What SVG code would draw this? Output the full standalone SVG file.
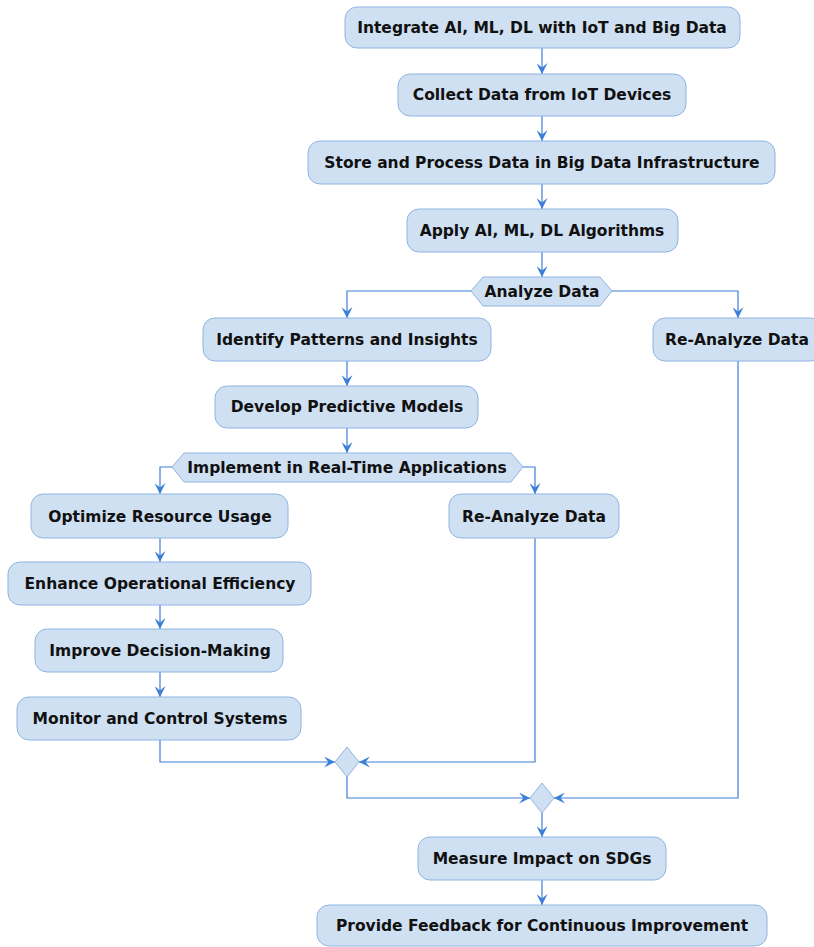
<svg xmlns="http://www.w3.org/2000/svg" width="814" height="947" viewBox="0 0 814 947">
<defs>
<style>
.box{fill:#CFE0F2;stroke:#8FB4E3;stroke-width:1}
.t{font-family:"DejaVu Sans",sans-serif;font-size:15.5px;fill:#111;text-anchor:middle;font-weight:bold}
.c{fill:none;stroke:#3C7FD8;stroke-width:1.2}
</style>
<marker id="a" viewBox="0 0 10 10" refX="10" refY="5" markerWidth="11" markerHeight="11" markerUnits="userSpaceOnUse" orient="auto">
<path d="M0,0 L10,5 L0,10 L4,5 Z" fill="#3C7FD8"/>
</marker>
</defs>
<rect width="814" height="947" fill="#fff"/>
<g id="connectors">
<path class="c" d="M542,48 V74" marker-end="url(#a)"/>
<path class="c" d="M542,116 V141" marker-end="url(#a)"/>
<path class="c" d="M542,184 V209" marker-end="url(#a)"/>
<path class="c" d="M542,252 V277" marker-end="url(#a)"/>
<path class="c" d="M471,291 H347 V318" marker-end="url(#a)"/>
<path class="c" d="M612,291 H738 V318" marker-end="url(#a)"/>
<path class="c" d="M347,361 V386" marker-end="url(#a)"/>
<path class="c" d="M347,428 V453" marker-end="url(#a)"/>
<path class="c" d="M172,467 H160 V494" marker-end="url(#a)"/>
<path class="c" d="M523,467 H535 V494" marker-end="url(#a)"/>
<path class="c" d="M160,538 V562" marker-end="url(#a)"/>
<path class="c" d="M160,605 V629" marker-end="url(#a)"/>
<path class="c" d="M160,672 V697" marker-end="url(#a)"/>
<path class="c" d="M160,740 V762 H335" marker-end="url(#a)"/>
<path class="c" d="M535,538 V762 H359" marker-end="url(#a)"/>
<path class="c" d="M347,777 V798 H530" marker-end="url(#a)"/>
<path class="c" d="M738,361 V798 H554" marker-end="url(#a)"/>
<path class="c" d="M542,813 V837" marker-end="url(#a)"/>
<path class="c" d="M542,880 V905" marker-end="url(#a)"/>
</g>
<g id="n1"><rect class="box" x="345" y="7" width="395" height="41" rx="12"/><text class="t" x="542" y="33">Integrate AI, ML, DL with IoT and Big Data</text></g>
<g id="n2"><rect class="box" x="398" y="74" width="288" height="42" rx="12"/><text class="t" x="542" y="100">Collect Data from IoT Devices</text></g>
<g id="n3"><rect class="box" x="308" y="141" width="467" height="43" rx="12"/><text class="t" x="542" y="168">Store and Process Data in Big Data Infrastructure</text></g>
<g id="n4"><rect class="box" x="407" y="209" width="271" height="43" rx="12"/><text class="t" x="542" y="236">Apply AI, ML, DL Algorithms</text></g>
<g id="d1"><polygon class="box" points="471,291 483,277 600,277 612,291 600,306 483,306"/><text class="t" x="542" y="297">Analyze Data</text></g>
<g id="n5"><rect class="box" x="203" y="318" width="288" height="43" rx="12"/><text class="t" x="347" y="345">Identify Patterns and Insights</text></g>
<g id="n6"><rect class="box" x="653" y="318" width="170" height="43" rx="12"/><text class="t" x="737" y="345">Re-Analyze Data</text></g>
<g id="n7"><rect class="box" x="215" y="386" width="263" height="42" rx="12"/><text class="t" x="347" y="412">Develop Predictive Models</text></g>
<g id="d2"><polygon class="box" points="172,467 184,453 511,453 523,467 511,482 184,482"/><text class="t" x="347" y="473">Implement in Real-Time Applications</text></g>
<g id="n8"><rect class="box" x="31" y="494" width="257" height="44" rx="12"/><text class="t" x="160" y="522">Optimize Resource Usage</text></g>
<g id="n9"><rect class="box" x="449" y="494" width="170" height="44" rx="12"/><text class="t" x="534" y="522">Re-Analyze Data</text></g>
<g id="n10"><rect class="box" x="8" y="562" width="303" height="43" rx="12"/><text class="t" x="160" y="589">Enhance Operational Efficiency</text></g>
<g id="n11"><rect class="box" x="35" y="629" width="248" height="43" rx="12"/><text class="t" x="160" y="656">Improve Decision-Making</text></g>
<g id="n12"><rect class="box" x="17" y="697" width="284" height="43" rx="12"/><text class="t" x="160" y="724">Monitor and Control Systems</text></g>
<g id="m1"><polygon class="box" points="347,747 359,762 347,777 335,762"/></g>
<g id="m2"><polygon class="box" points="542,783 554,798 542,813 530,798"/></g>
<g id="n13"><rect class="box" x="418" y="837" width="248" height="43" rx="12"/><text class="t" x="542" y="864">Measure Impact on SDGs</text></g>
<g id="n14"><rect class="box" x="317" y="905" width="450" height="41" rx="12"/><text class="t" x="542" y="931">Provide Feedback for Continuous Improvement</text></g>
</svg>
